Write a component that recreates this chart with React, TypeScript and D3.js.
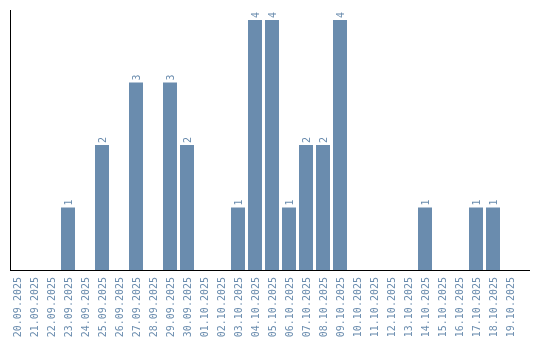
import React from "react";
import * as d3 from "d3";

const dates = [
  "20.09.2025", "21.09.2025", "22.09.2025", "23.09.2025", "24.09.2025",
  "25.09.2025", "26.09.2025", "27.09.2025", "28.09.2025", "29.09.2025",
  "30.09.2025", "01.10.2025", "02.10.2025", "03.10.2025", "04.10.2025",
  "05.10.2025", "06.10.2025", "07.10.2025", "08.10.2025", "09.10.2025",
  "10.10.2025", "11.10.2025", "12.10.2025", "13.10.2025", "14.10.2025",
  "15.10.2025", "16.10.2025", "17.10.2025", "18.10.2025", "19.10.2025",
];
const counts = [
  0, 0, 0, 1, 0, 2, 0, 3, 0, 3,
  2, 0, 0, 1, 4, 4, 1, 2, 2, 4,
  0, 0, 0, 0, 1, 0, 0, 1, 1, 0,
];

const W = 540;
const H = 340;
const COLOR = "#6a8cae";
const FONT = "'DejaVu Sans Mono', monospace";

export default function App() {
  const x = d3.scaleBand<string>().domain(dates).range([10, 517]).paddingInner(3 / 17).paddingOuter(0);
  const y = d3.scaleLinear().domain([0, 4]).range([270, 20]);
  const bw = x.bandwidth();
  return (
    <div style={{ position: "fixed", left: 0, top: 0 }}>
      <svg width={W} height={H} style={{ display: "block" }}>
        {dates.map((d, i) => {
          const v = counts[i];
          const cx = (x(d) as number) + bw / 2;
          return (
            <g key={d}>
              {v > 0 && (
                <>
                  <rect x={x(d)} y={y(v)} width={bw} height={y(0) - y(v)} fill={COLOR} />
                  <text
                    transform={`translate(${cx},${y(v) - 2}) rotate(-90)`}
                    dy="0.35em"
                    textAnchor="start"
                    fontFamily={FONT}
                    fontSize={10}
                    fill={COLOR}
                  >
                    {v}
                  </text>
                </>
              )}
              <text
                transform={`translate(${cx},277) rotate(-90)`}
                dy="0.35em"
                textAnchor="end"
                fontFamily={FONT}
                fontSize={10}
                fill={COLOR}
              >
                {d}
              </text>
            </g>
          );
        })}
        <line x1={10.5} x2={10.5} y1={10} y2={270} stroke="#000" strokeWidth={1} />
        <line x1={10} x2={530} y1={270.5} y2={270.5} stroke="#000" strokeWidth={1} />
      </svg>
    </div>
  );
}
